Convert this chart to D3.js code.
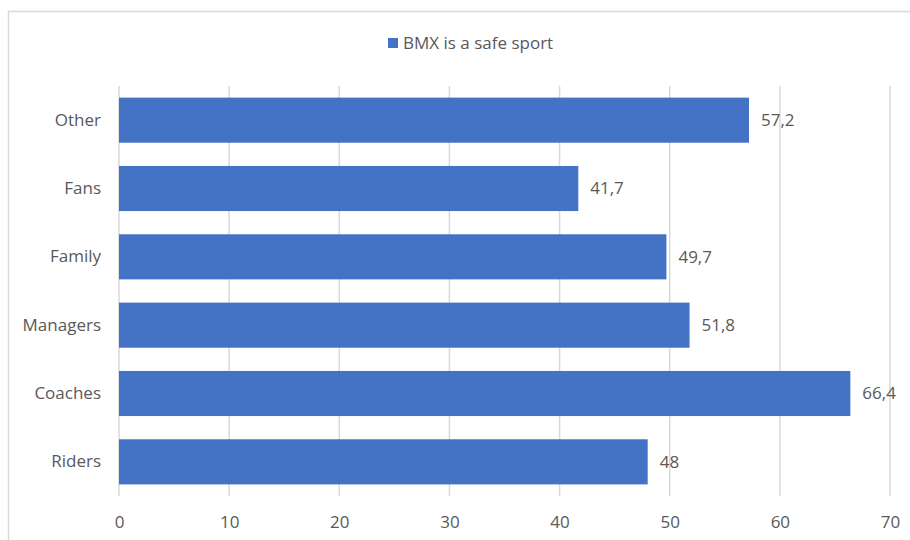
<!DOCTYPE html>
<html>
<head>
<meta charset="utf-8">
<script src="https://cdn.jsdelivr.net/npm/d3@7"></script>
<style>
  body { margin: 0; background: #fff; }
  svg { display: block; font-family: "Open Sans", "Noto Sans", sans-serif; }
</style>
</head>
<body>
<svg id="chart" width="910" height="540"></svg>
<script>
// Survey groups, top to bottom as drawn
const categories = ["Other", "Fans", "Family", "Managers", "Coaches", "Riders"];
const values = [57.2, 41.7, 49.7, 51.8, 66.4, 48];
const valueLabels = ["57,2", "41,7", "49,7", "51,8", "66,4", "48"];
const xTicks = [0, 10, 20, 30, 40, 50, 60, 70];
const seriesName = "BMX is a safe sport";

const barColor = "#4472c4";
const gridColor = "#d9d9d9";
const textColor = "#595959";
const fontSize = 17;
const fontFamily = "\"Open Sans\", \"Noto Sans\", sans-serif";

const svg = d3.select("#chart");
const margin = { left: 119, right: 20, top: 86, bottom: 44 };
const width = 910, height = 540;

// chart frame
svg.append("rect")
  .attr("x", 8.5).attr("y", 11.5)
  .attr("width", 910).attr("height", 540)
  .attr("fill", "#fff")
  .attr("stroke", gridColor).attr("stroke-width", 1.5);

const x = d3.scaleLinear().domain([0, 70]).range([margin.left, 890]);
const y = d3.scaleBand().domain(categories)
  .range([margin.top, height - margin.bottom])
  .paddingInner(0.34).paddingOuter(0.17);

// vertical gridlines
svg.append("g").selectAll("line").data(xTicks).join("line")
  .attr("x1", d => x(d)).attr("x2", d => x(d))
  .attr("y1", margin.top).attr("y2", height - margin.bottom)
  .attr("stroke", gridColor).attr("stroke-width", 1.5);

// x axis tick labels
const xAxis = d3.axisBottom(x).tickValues(xTicks).tickSize(0).tickPadding(0);
const gx = svg.append("g")
  .attr("transform", `translate(0,${height - margin.bottom})`)
  .call(xAxis);
gx.select(".domain").remove();
gx.selectAll("text")
  .attr("y", 26).attr("dy", "0.35em")
  .attr("fill", textColor).attr("font-size", fontSize)
  .attr("font-family", fontFamily);

// category labels
const yAxis = d3.axisLeft(y).tickSize(0).tickPadding(0);
const gy = svg.append("g")
  .attr("transform", `translate(${margin.left},0)`)
  .call(yAxis);
gy.select(".domain").remove();
gy.selectAll("text")
  .attr("x", -18)
  .attr("fill", textColor).attr("font-size", fontSize)
  .attr("font-family", fontFamily);

// bars
svg.append("g").selectAll("rect").data(categories).join("rect")
  .attr("x", x(0))
  .attr("y", d => y(d))
  .attr("width", (d, i) => x(values[i]) - x(0))
  .attr("height", y.bandwidth())
  .attr("fill", barColor);

// value labels
svg.append("g").selectAll("text").data(categories).join("text")
  .attr("x", (d, i) => x(values[i]) + 12)
  .attr("y", d => y(d) + y.bandwidth() / 2)
  .attr("dy", "0.35em")
  .attr("fill", textColor).attr("font-size", fontSize)
  .text((d, i) => valueLabels[i]);

// legend
const legend = svg.append("g").attr("transform", "translate(388,43)");
legend.append("rect")
  .attr("x", 0).attr("y", -5).attr("width", 10).attr("height", 10)
  .attr("fill", barColor);
legend.append("text")
  .attr("x", 15).attr("y", 0).attr("dy", "0.35em")
  .attr("fill", textColor).attr("font-size", fontSize)
  .text(seriesName);
</script>
</body>
</html>
